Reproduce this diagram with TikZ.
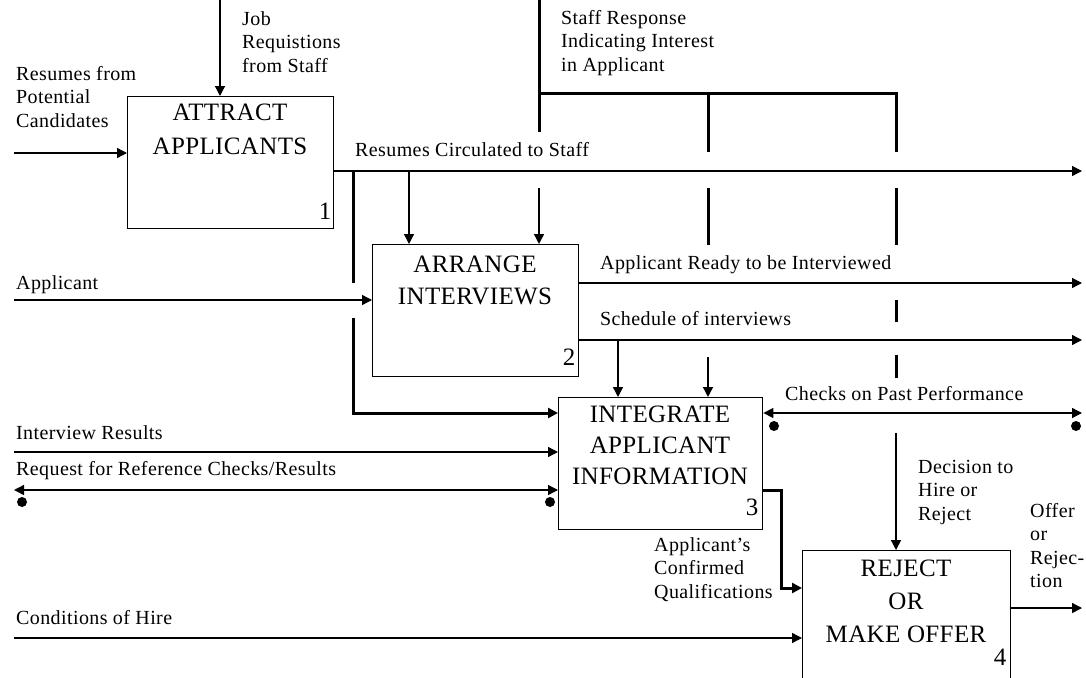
\documentclass[tikz,border=0pt]{standalone}
\usepackage{fontspec}
\setmainfont{Liberation Serif}
\newfontfamily\lblface[LetterSpace=2]{Liberation Serif}
\newfontfamily\titleface[LetterSpace=1.5]{Liberation Serif}
\usetikzlibrary{arrows.meta}
\begin{document}
\begin{tikzpicture}[x=1pt,y=-1pt,
  box/.style={draw, line width=1.4pt, minimum width=206pt, minimum height=132pt,
              anchor=north west, inner sep=0pt},
  title/.style={align=center, inner sep=0pt, anchor=north},
  num/.style={font=\fontsize{25}{30}\selectfont, inner sep=0pt},
  lbl/.style={font=\lblface\fontsize{20}{23.5}\selectfont, align=left, inner sep=0pt, anchor=north west},
  wire/.style={line width=1.4pt},
  heavy/.style={line width=3pt},
  tip/.style={-{Triangle[length=10pt,width=10pt]}},
  twoway/.style={{Triangle[length=10pt,width=10pt]}-{Triangle[length=10pt,width=10pt]}},
  dot/.style={circle, fill, inner sep=0pt, minimum size=10pt},
]
\clip (0,0) rectangle (1086,677);
\fill[white] (0,0) rectangle (1086,677);

% activity boxes
\node[box] (a1) at (127,96) {};
\node[box] (a2) at (372,244) {};
\node[box, minimum width=204pt] (a3) at (558,397) {};
\node[box, minimum width=208pt] (a4) at (802,550) {};

\node[title, font=\titleface\fontsize{25}{34}\selectfont] (t1) at (230,104) {ATTRACT\\APPLICANTS};
\node[title, font=\titleface\fontsize{25}{32}\selectfont] (t2) at (475,256) {ARRANGE\\INTERVIEWS};
\node[title, font=\titleface\fontsize{25}{31}\selectfont] (t3) at (660,406) {INTEGRATE\\APPLICANT\\INFORMATION};
\node[title, font=\titleface\fontsize{25}{33}\selectfont] (t4) at (906,560) {REJECT\\OR\\MAKE OFFER};

\node[num] (n1) at (325,211) {1};
\node[num] (n2) at (569,357) {2};
\node[num] (n3) at (752,507) {3};
\node[num] (n4) at (1000,657) {4};

% free ends of the boundary arrows
\coordinate (jobSrc) at (220,0);
\coordinate (resSrc) at (14,153);
\coordinate (appSrc) at (14,300);
\coordinate (intSrc) at (14,452);
\coordinate (refSrc) at (14,490);
\coordinate (condSrc) at (14,638);
\coordinate (circEnd) at (1082,171);
\coordinate (readyEnd) at (1082,283);
\coordinate (schedEnd) at (1082,340);
\coordinate (checkEnd) at (1082,413);
\coordinate (offerEnd) at (1082,608);
\coordinate (staffSrc) at (539,0);

% junctions, bends and line breaks at crossings
\coordinate (tapA) at (409,171);
\coordinate (tapB) at (353,171);
\coordinate (gapB1) at (353,283);
\coordinate (gapB2) at (353,318);
\coordinate (rowB) at (0,413);
\coordinate (staffGap) at (539,132);
\coordinate (staffLow) at (539,188);
\coordinate (busL) at (539,93);
\coordinate (busM) at (708,93);
\coordinate (busR) at (896,93);
\coordinate (mA) at (708,152);
\coordinate (mB) at (708,188);
\coordinate (mC) at (708,245);
\coordinate (mD) at (708,357);
\coordinate (rA) at (896,152);
\coordinate (rB) at (896,188);
\coordinate (rC) at (896,245);
\coordinate (rD) at (896,300);
\coordinate (rE) at (896,322);
\coordinate (rF) at (896,355);
\coordinate (rG) at (896,378);
\coordinate (rH) at (896,433);
\coordinate (tapC) at (618,340);
\coordinate (qualBend) at (781,490);
\coordinate (qualIn) at (0,588);

% box 1
\draw[wire,tip] (jobSrc) -- (jobSrc |- a1.north);
\draw[wire,tip] (resSrc) -- (resSrc -| a1.west);
\draw[wire,tip] (a1.east |- circEnd) -- (circEnd);
\draw[wire,tip] (tapA) -- (tapA |- a2.north);
\draw[wire,tip] (staffLow) -- (staffLow |- a2.north);
\draw[heavy] (tapB) -- (gapB1);
\draw[heavy,tip] (gapB2) |- (a3.west |- rowB);

% staff response
\draw[heavy] (staffSrc) -- (staffGap);
\draw[heavy] (busL) -- (busR) -- (rA);
\draw[heavy] (busM) -- (mA);
\draw[heavy] (mB) -- (mC);
\draw[wire,tip] (mD) -- (mD |- a3.north);
\draw[heavy] (rB) -- (rC);
\draw[heavy] (rD) -- (rE);
\draw[heavy] (rF) -- (rG);
\draw[wire,tip] (rH) -- (rH |- a4.north);

% box 2
\draw[wire,tip] (appSrc) -- (appSrc -| a2.west);
\draw[wire,tip] (a2.east |- readyEnd) -- (readyEnd);
\draw[wire,tip] (a2.east |- schedEnd) -- (schedEnd);
\draw[wire,tip] (tapC) -- (tapC |- a3.north);

% box 3
\draw[wire,tip] (intSrc) -- (intSrc -| a3.west);
\draw[wire,twoway] (refSrc) -- (refSrc -| a3.west);
\node[dot] (refDotL) at (22,502) {};
\node[dot] (refDotR) at (550,502) {};
\draw[wire,twoway] (a3.east |- checkEnd) -- (checkEnd);
\node[dot] (chkDotL) at (774,426) {};
\node[dot] (chkDotR) at (1076,426) {};
\draw[heavy,tip] (a3.east |- qualBend) -- (qualBend) |- (a4.west |- qualIn);

% box 4
\draw[wire,tip] (condSrc) -- (condSrc -| a4.west);
\draw[wire,tip] (a4.east |- offerEnd) -- (offerEnd);

% arrow labels
\node[lbl] (lJob) at (242,11) {Job\\Requistions\\from Staff};
\node[lbl] (lRes) at (16,66) {Resumes from\\Potential\\Candidates};
\node[lbl] (lStaff) at (561,10) {Staff Response\\Indicating Interest\\in Applicant};
\node[lbl] (lCirc) at (355,142) {Resumes Circulated to Staff};
\node[lbl] (lApp) at (16,275) {Applicant};
\node[lbl] (lReady) at (600,255) {Applicant Ready to be Interviewed};
\node[lbl] (lSched) at (600,311) {Schedule of interviews};
\node[lbl] (lChk) at (785,386) {Checks on Past Performance};
\node[lbl] (lInt) at (16,425) {Interview Results};
\node[lbl] (lRef) at (16,461) {Request for Reference Checks/Results};
\node[lbl] (lDec) at (918,460) {Decision to\\Hire or\\Reject};
\node[lbl] (lQual) at (654,537) {Applicant’s\\Confirmed\\Qualifications};
\node[lbl] (lOffer) at (1030,503) {Offer\\or\\Rejec-\\tion};
\node[lbl] (lCond) at (16,610) {Conditions of Hire};
\end{tikzpicture}
\end{document}
